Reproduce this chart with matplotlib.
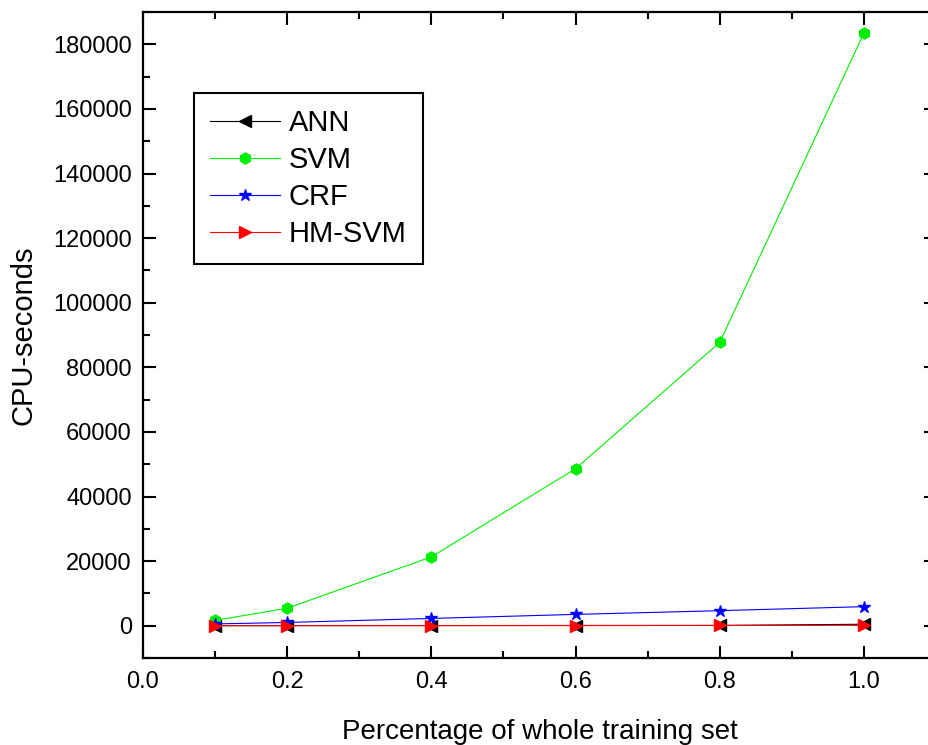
import matplotlib
matplotlib.use("Agg")
import matplotlib.pyplot as plt
from matplotlib.ticker import MultipleLocator, FuncFormatter

plt.rcParams['font.family'] = ['Liberation Sans', 'DejaVu Sans']

x = [0.1, 0.2, 0.4, 0.6, 0.8, 1.0]
ann = [10, 20, 40, 60, 80, 450]
svm = [1650, 5400, 21300, 48600, 87700, 183500]
crf = [550, 1000, 2250, 3500, 4650, 5900]
hmsvm = [10, 20, 40, 60, 80, 120]

fig = plt.figure(figsize=(9.29, 7.45), dpi=100)
ax = fig.add_axes([143/929, 87/745, 793/929, 646/745])

lw = 0.8
ax.plot(x, ann, color='black', lw=lw, marker='<', ms=8, label='ANN')
ax.plot(x, svm, color='#00ee00', lw=lw, marker='h', ms=8, label='SVM')
ax.plot(x, crf, color='#0000ff', lw=lw, marker='*', ms=9, label='CRF')
ax.plot(x, hmsvm, color='#ff0000', lw=lw, marker='>', ms=8, label='HM-SVM')

ax.set_xlim(0, 1.1)
ax.set_ylim(-10000, 190000)
ax.xaxis.set_major_locator(MultipleLocator(0.2))
ax.xaxis.set_minor_locator(MultipleLocator(0.1))
ax.yaxis.set_major_locator(MultipleLocator(20000))
ax.yaxis.set_minor_locator(MultipleLocator(10000))
ax.xaxis.set_major_formatter(FuncFormatter(lambda v, p: f"{v:.1f}"))
ax.yaxis.set_major_formatter(FuncFormatter(lambda v, p: f"{int(round(v))}"))

ax.tick_params(which='both', direction='in', top=True, right=True, width=1.5)
ax.tick_params(which='major', length=9)
ax.tick_params(which='minor', length=5)
ax.tick_params(axis='x', labelsize=17, pad=9)
ax.tick_params(axis='y', labelsize=17, pad=8)
for s in ax.spines.values():
    s.set_linewidth(1.6)

ax.set_xlabel('Percentage of whole training set', fontsize=20, labelpad=19)
ax.set_ylabel('CPU-seconds', fontsize=21, labelpad=11)

leg = ax.legend(loc='upper left', bbox_to_anchor=((194-143)/793, (658-93)/646),
                borderaxespad=0, fontsize=21, frameon=True, fancybox=False,
                edgecolor='black', framealpha=1, numpoints=1,
                handlelength=2.4, handletextpad=0.3, labelspacing=0.31,
                borderpad=0.55)
leg.get_frame().set_linewidth(1.5)

fig.savefig('out.png', dpi=100)
